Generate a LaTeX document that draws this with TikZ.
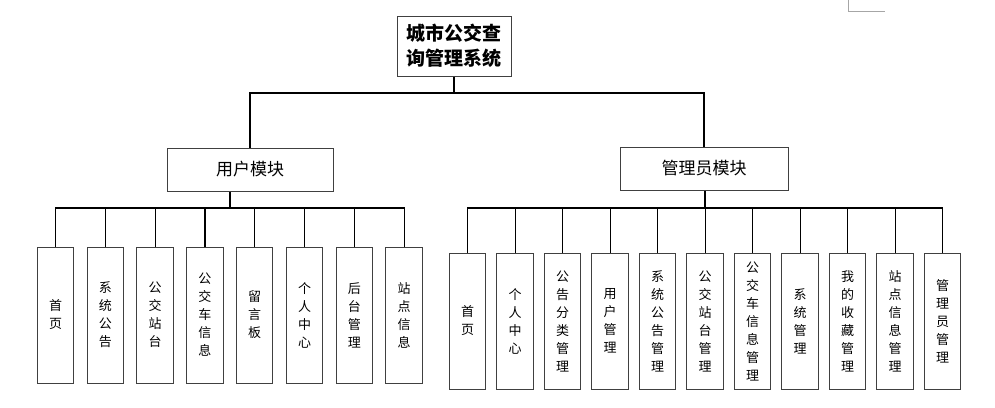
\documentclass[tikz,border=0pt]{standalone}
\usepackage{fontspec}
\setmainfont{Noto Sans CJK SC}
\usepackage{tikz}

\begin{document}
\begin{tikzpicture}[x=1pt,y=-1pt,line width=1.2pt,
  box/.style={draw=black!75,fill=white,line width=1pt,inner sep=0pt},
  leaf/.style={box,minimum width=36.5pt,minimum height=136pt,align=center,font=\fontsize{13}{18}\selectfont},
  module/.style={box,minimum height=43pt,font=\fontsize{17}{20}\selectfont},
  bus/.style={to path={-| (\tikztotarget)}}]
  \useasboundingbox (0,0) rectangle (995,407);

  \node[box,minimum width=114pt,minimum height=60pt,align=center,font=\fontsize{19}{25}\selectfont\bfseries] (root) at (454,46) {城市公交查\\询管理系统};
  \node[module,minimum width=166pt] (user) at (250,169.5) {用户模块};
  \node[module,minimum width=168pt] (admin) at (704,168.5) {管理员模块};

  \begin{scope}[node distance=49.8pt]
  \node[leaf] (l1) at (55.5,315) {首\\页};
  \node[leaf] (l2) [right of=l1] {系\\统\\公\\告};
  \node[leaf] (l3) [right of=l2] {公\\交\\站\\台};
  \node[leaf] (l4) [right of=l3] {公\\交\\车\\信\\息};
  \node[leaf] (l5) [right of=l4] {留\\言\\板};
  \node[leaf] (l6) [right of=l5] {个\\人\\中\\心};
  \node[leaf] (l7) [right of=l6] {后\\台\\管\\理};
  \node[leaf] (l8) [right of=l7] {站\\点\\信\\息};
  \end{scope}

  \begin{scope}[node distance=47.5pt]
  \node[leaf] (r1) at (467.7,321) {首\\页};
  \node[leaf] (r2) [right of=r1] {个\\人\\中\\心};
  \node[leaf] (r3) [right of=r2] {公\\告\\分\\类\\管\\理};
  \node[leaf] (r4) [right of=r3] {用\\户\\管\\理};
  \node[leaf] (r5) [right of=r4] {系\\统\\公\\告\\管\\理};
  \node[leaf] (r6) [right of=r5] {公\\交\\站\\台\\管\\理};
  \node[leaf] (r7) [right of=r6] {公\\交\\车\\信\\息\\管\\理};
  \node[leaf] (r8) [right of=r7] {系\\统\\管\\理};
  \node[leaf] (r9) [right of=r8] {我\\的\\收\\藏\\管\\理};
  \node[leaf] (r10) [right of=r9] {站\\点\\信\\息\\管\\理};
  \node[leaf] (r11) [right of=r10] {管\\理\\员\\管\\理};
  \end{scope}

  \coordinate (top) at (454,93);
  \coordinate (ubus) at (230,208);
  \coordinate (abus) at (705,208);

  \draw (root) -- (top) -| (user);
  \draw (top) -| (admin);
  \draw (user.south -| ubus) -- (ubus);
  \draw (admin.south -| abus) -- (abus);

  \path[bus]
  (ubus) edge (l1) edge (l2) edge (l3) edge (l4)
         edge (l5) edge (l6) edge (l7) edge (l8)
  (abus) edge (r1) edge (r2) edge (r3) edge (r4) edge (r5) edge (r6)
         edge (r7) edge (r8) edge (r9) edge (r10) edge (r11);

  \draw[gray!70,line width=0.8pt] (848,0) -- (848,11) -- (885,11);
\end{tikzpicture}
\end{document}
